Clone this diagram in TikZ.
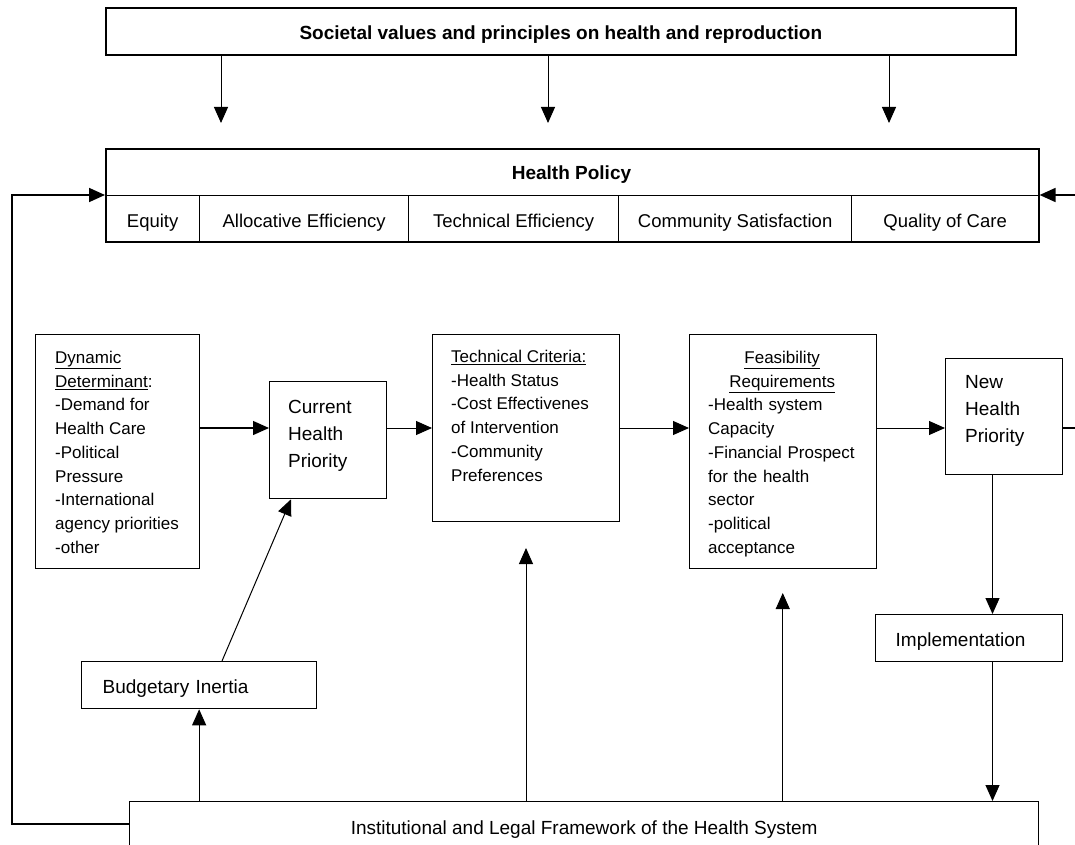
\documentclass[tikz,border=0pt]{standalone}
\usepackage{fontspec}
\setmainfont{Liberation Sans}
\usetikzlibrary{arrows.meta}
\newcommand\txta{\fontsize{17}{23.7}\selectfont}
\newcommand\txtb{\fontsize{19}{27}\selectfont}
\newcommand\txtc{\fontsize{18.5}{24}\selectfont}
\tikzset{
  bx/.style={draw, line width=1.3pt, inner sep=0pt, anchor=north west},
  cell/.style={bx, minimum height=46pt, text height=17pt, text depth=0pt, font=\txtc},
  one/.style={text height=17pt, text depth=0pt},
  blk/.style={anchor=north west, inner sep=0pt, align=left},
  arr/.style={line width=1pt, -{Triangle[length=16pt,width=14pt]}},
  fb/.style={line width=1.8pt},
}
\begin{document}
\begin{tikzpicture}[x=1pt,y=-1pt]
\clip (0,0) rectangle (1075,845);
% top
\node[bx, line width=1.6pt, minimum width=910pt, minimum height=47pt, one, font=\bfseries\txtb] (soc) at (105,7) {Societal values and principles on health and reproduction};
% health policy
\node[bx, line width=1.6pt, minimum width=933pt, minimum height=93pt] (hp) at (105,148) {};
\node[anchor=base, inner sep=0pt, font=\bfseries\txtb] (hpt) at (571.5,179) {Health Policy};
\node[cell, minimum width=94pt] (c1) at (105,195) {Equity};
\node[cell, minimum width=209pt] (c2) at (199,195) {Allocative Efficiency};
\node[cell, minimum width=210pt] (c3) at (408,195) {Technical Efficiency};
\node[cell, minimum width=233pt] (c4) at (618,195) {Community Satisfaction};
\node[cell, minimum width=187pt] (c5) at (851,195) {Quality of Care};
% arrows from top
\coordinate (t1) at (221,123);
\coordinate (t2) at (548,123);
\coordinate (t3) at (889,123);
\draw[arr] (t1 |- soc.south) -- (t1);
\draw[arr] (t2 |- soc.south) -- (t2);
\draw[arr] (t3 |- soc.south) -- (t3);
% middle row
\node[bx, minimum width=164pt, minimum height=234pt] (dyn) at (35,334) {};
\node[blk, font=\txta] (dynt) at (55,351) {\underline{Dynamic}\\\underline{Determinant}:\\-Demand for\\Health Care\\-Political\\Pressure\\-International\\agency~priorities\\-other};
\node[bx, minimum width=117pt, minimum height=117pt] (cur) at (269,381) {};
\node[blk, font=\txtb] (curt) at (288,399.6) {Current\\Health\\Priority};
\node[bx, line width=1pt, minimum width=187pt, minimum height=187pt] (tech) at (432,334) {};
\node[blk, font=\txta] (techt) at (451,350) {\underline{Technical Criteria:}\\-Health Status\\-Cost Effectivenes\\of Intervention\\-Community\\Preferences};
\node[bx, line width=1pt, minimum width=186.5pt, minimum height=234pt] (feas) at (689,334) {};
\node[blk, font=\txta, text width=148pt] (feast) at (708,351) {\makebox[148pt]{\underline{Feasibility}}\\\makebox[148pt]{\underline{Requirements}}\\-Health~system\\Capacity\\-Financial~Prospect\\for~the~health\\sector\\-political\\acceptance};
\node[bx, minimum width=117pt, minimum height=116pt] (new) at (945,358) {};
\node[blk, font=\txtb] (newt) at (965,375.6) {New\\Health\\Priority};
% lower boxes
\node[bx, one, minimum height=47pt, text width=147pt, inner xsep=20pt, align=left, font=\txtb] (impl) at (875,614) {Implementation};
\node[bx, one, minimum height=47pt, text width=193pt, inner xsep=21pt, align=left, font=\txtb] (bud) at (81,661) {Budgetary Inertia};
\node[bx, one, minimum width=909pt, minimum height=49pt, font=\txtb] (inst) at (129,801) {Institutional and Legal Framework of the Health System};
% horizontal flow
\draw[arr, line width=1.3pt] (dyn.east |- tech.center) -- (cur.west |- tech.center);
\draw[arr] (cur.east |- tech.center) -- (tech.west);
\draw[arr] (tech.east) -- (feas.west |- tech.center);
\draw[arr] (feas.east |- tech.center) -- (new.west |- tech.center);
% feedback loops
\coordinate (rc) at (1076,195);
\coordinate (lb) at (12,824);
\coordinate (lc) at (12,195);
\draw[fb, -{Triangle[length=16pt,width=14pt]}] (new.east |- tech.center) -| (rc) -- (hp.east |- rc);
\draw[fb, -{Triangle[length=16pt,width=14pt]}] (inst.west |- lb) -- (lb) -- (lc) -- (hp.west |- lc);
% verticals
\draw[arr] ([xshift=141pt]bud.north west) -- ([xshift=22pt]cur.south west);
\draw[arr] (bud.south |- inst.north) -- (bud.south);
\draw[arr] (tech.south |- inst.north) -- ([yshift=-26pt]tech.south);
\draw[arr] (feas.south |- inst.north) -- ([yshift=-24pt]feas.south);
\coordinate (cx) at (992.5,0);
\draw[arr] (new.south -| cx) -- (impl.north -| cx);
\draw[arr] (impl.south -| cx) -- (inst.north -| cx);
\end{tikzpicture}
\end{document}
